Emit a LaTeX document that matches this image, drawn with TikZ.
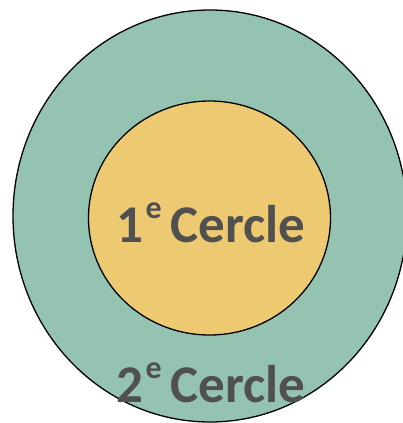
\documentclass[tikz,border=0pt]{standalone}
\usepackage{fontspec}
\setmainfont{Carlito}
\definecolor{outerfill}{HTML}{95C3B1}
\definecolor{innerfill}{HTML}{EDCA72}
\definecolor{labelgray}{HTML}{505050}
\newcommand{\supe}{\kern2pt\raisebox{24pt}{\fontsize{32}{32}\selectfont\bfseries e}\kern9pt}
\tikzset{
  ring/.style={draw=black, line width=1.3pt},
  lab/.style={anchor=base, inner sep=0pt, text=labelgray, font=\fontsize{53}{60}\selectfont\bfseries}
}
\begin{document}
\begin{tikzpicture}[x=1pt, y=-1pt]
\useasboundingbox (0,0) rectangle (403,423);
\clip (0,0) rectangle (403,423);
\draw[ring, fill=outerfill] (210,216) ellipse [x radius=197, y radius=206];
\draw[ring, fill=innerfill] (209.5,218) ellipse [x radius=121, y radius=117];
\node[lab] (first) at (211,242) {1\supe Cercle};
\node[lab] (second) at (211,402) {2\supe Cercle};
\end{tikzpicture}
\end{document}
